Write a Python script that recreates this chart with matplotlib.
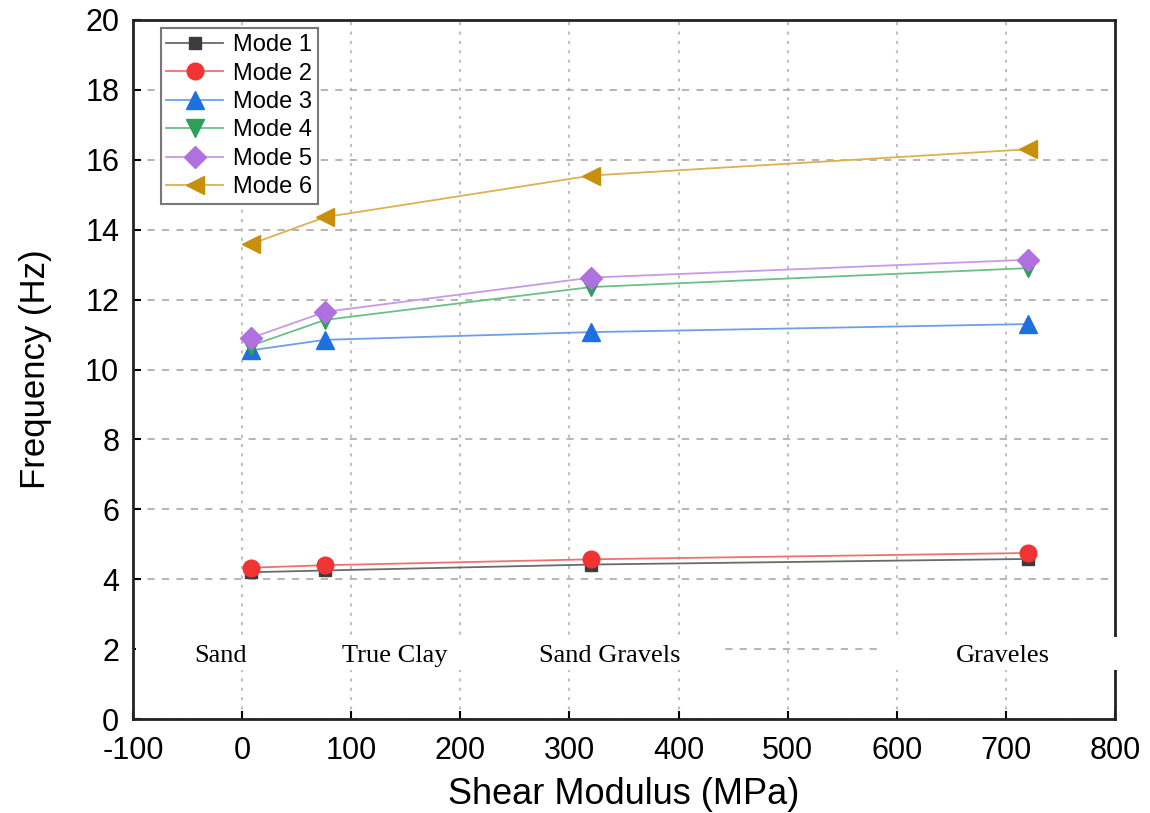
import matplotlib.pyplot as plt
from matplotlib.patches import Rectangle

# shear modulus of each soil type (MPa)
shear_modulus = [8, 76, 320, 720]
soil_names = ["Sand", "True Clay", "Sand Gravels", "Graveles"]
soil_label_x = [-20, 140, 337, 697]

# natural frequencies (Hz) per mode
mode1 = [4.20, 4.25, 4.42, 4.58]
mode2 = [4.33, 4.40, 4.57, 4.75]
mode3 = [10.55, 10.85, 11.07, 11.30]
mode4 = [10.68, 11.42, 12.36, 12.90]
mode5 = [10.90, 11.65, 12.63, 13.14]
mode6 = [13.59, 14.36, 15.55, 16.30]

modes = [mode1, mode2, mode3, mode4, mode5, mode6]
mode_labels = ["Mode 1", "Mode 2", "Mode 3", "Mode 4", "Mode 5", "Mode 6"]

styles = [
    dict(marker="s", ms=9, mfc="#3c3c3c", mec="#3c3c3c", color="#6a6a6a"),
    dict(marker="o", ms=12, mfc="#f03434", mec="#f03434", color="#f07070"),
    dict(marker="^", ms=12.5, mfc="#1f6fe0", mec="#1f6fe0", color="#6f9fe8"),
    dict(marker="v", ms=12.5, mfc="#2ca05a", mec="#2ca05a", color="#6cbf88"),
    dict(marker="D", ms=11, mfc="#b070e0", mec="#b070e0", color="#c79ae8"),
    dict(marker="<", ms=13, mfc="#c8900a", mec="#c8900a", color="#ddb050"),
]

plt.rcParams["font.family"] = ["Liberation Sans", "DejaVu Sans"]
plt.rcParams["axes.unicode_minus"] = False

fig = plt.figure(figsize=(11.5, 8.13), dpi=100)
ax = fig.add_axes([0.1157, 0.1156, 0.8539, 0.8598])

for vals, lab, st in zip(modes, mode_labels, styles):
    ax.plot(shear_modulus, vals, lw=1.3, label=lab, zorder=3, **st)

ax.set_xlim(-100, 800)
ax.set_ylim(0, 20)
ax.set_xticks(range(-100, 801, 100))
ax.set_yticks(range(0, 21, 2))

ax.yaxis.grid(True, linestyle=(0, (4, 4)), color="#b0b0b0", lw=1.3)
ax.xaxis.grid(True, linestyle=(0, (1.5, 3)), color="#c0c0c0", lw=1.5)
ax.set_axisbelow(True)

ax.tick_params(axis="both", direction="in", length=6, width=1.5,
               labelsize=22, colors="black")
ax.tick_params(axis="y", pad=10)
ax.tick_params(axis="x", pad=12)
for sp in ax.spines.values():
    sp.set_linewidth(2)
    sp.set_color("#222222")

ax.set_xlabel("Shear Modulus (MPa)", fontsize=26, labelpad=8)
ax.set_ylabel("Frequency (Hz)", fontsize=25, labelpad=24)

# white strips behind the soil names (pasted-on labels in the original)
for x0, x1 in [(-97, 438), (583, 802)]:
    ax.add_patch(Rectangle((x0, 1.40), x1 - x0, 0.95, facecolor="white",
                           edgecolor="none", clip_on=False, zorder=4))
for name, xpos in zip(soil_names, soil_label_x):
    ax.text(xpos, 1.80, name, family="Liberation Serif", fontsize=19,
            ha="center", va="center", zorder=5)

leg = ax.legend(loc="upper left", bbox_to_anchor=(0.028, 0.988), fontsize=17,
                handlelength=2.4, labelspacing=0.27, borderpad=0.25,
                borderaxespad=0, handletextpad=0.4, fancybox=False,
                framealpha=1)
leg.get_frame().set_edgecolor("#777777")
leg.get_frame().set_linewidth(1.5)

fig.savefig("out.png", dpi=100)
